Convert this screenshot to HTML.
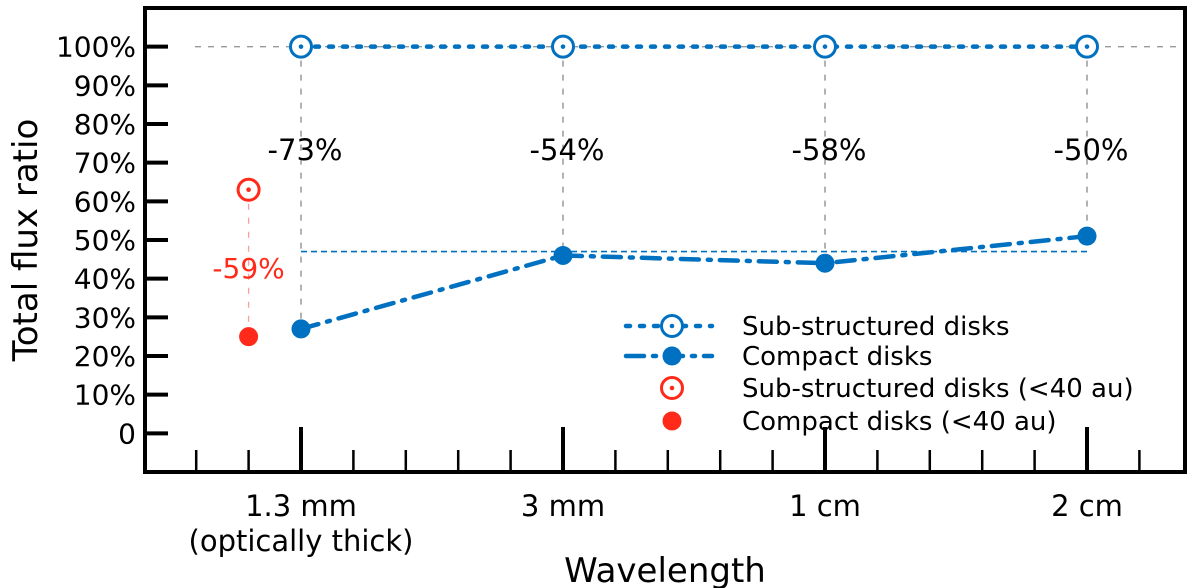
<!DOCTYPE html>
<html><head><meta charset="utf-8"><style>
body{margin:0;background:#fff;}
svg{display:block;font-family:"DejaVu Sans","Liberation Sans",sans-serif;}
</style></head><body>
<svg id="chart" width="1200" height="588" viewBox="0 0 1200 588" xmlns="http://www.w3.org/2000/svg"></svg>
<script>
const categories=["1.3 mm","3 mm","1 cm","2 cm"];
const subStructured=[100,100,100,100];
const compact=[27,46,44,51];
const diffLabels=["-73%","-54%","-58%","-50%"];
const redSub=[63];
const redCompact=[25];
const redLabel=["-59%"];
const yTicks=[0,10,20,30,40,50,60,70,80,90,100];
const refLine=[47];

const NS="http://www.w3.org/2000/svg";
const svg=document.getElementById('chart');
const L=145,R=1185,T=8,B=472;
const y=v=>B+( (v+10)/120 )*(T-B);
const x=i=>301+i*262;
const xr=i=>x(i)-52.4;
function el(t,a,p){const e=document.createElementNS(NS,t);for(const k in a)e.setAttribute(k,a[k]);(p||svg).appendChild(e);return e;}
function txt(s,a){const e=el('text',a);e.textContent=s;return e;}

let g=el('line',{x1:195,x2:R,y1:y(100),y2:y(100),stroke:'#999','stroke-width':1.3,'stroke-dasharray':'6,7'});


categories.forEach((c,i)=>{
 const v=el('line',{x1:x(i),x2:x(i),y1:y(subStructured[i]),y2:y(compact[i]),stroke:'#888','stroke-width':1.3,'stroke-dasharray':'6,8'});
 
 
});
let rv=el('line',{x1:xr(0),x2:xr(0),y1:y(redSub[0]),y2:y(redCompact[0]),stroke:'#f7a0a0','stroke-width':1.3,'stroke-dasharray':'6,8'});


let rl=el('line',{x1:x(0),x2:x(3),y1:y(refLine[0]),y2:y(refLine[0]),stroke:'#0070c0','stroke-width':1.6,'stroke-dasharray':'6,4'});


let sl=el('polyline',{points:subStructured.map((v,i)=>x(i)+','+y(v)).join(' '),fill:'none',stroke:'#0070c0','stroke-width':4.5,'stroke-dasharray':'4,10','stroke-linecap':'round'});


let cl=el('polyline',{points:compact.map((v,i)=>x(i)+','+y(v)).join(' '),fill:'none',stroke:'#0070c0','stroke-width':4.5,'stroke-dasharray':'18,9,3,9','stroke-linecap':'round'});


function openMarker(cx,cy,col,name){
 const c=el('circle',{cx:cx,cy:cy,r:10.5,fill:'#fff',stroke:col,'stroke-width':3});
 
 
 el('circle',{cx:cx,cy:cy,r:2.3,fill:col});
}
function fillMarker(cx,cy,col,name){
 const c=el('circle',{cx:cx,cy:cy,r:9.5,fill:col});
 
 
}
subStructured.forEach((v,i)=>openMarker(x(i),y(v),'#0070c0','sub-structured-point-'+i));
compact.forEach((v,i)=>fillMarker(x(i),y(v),'#0070c0','compact-point-'+i));
openMarker(xr(0),y(redSub[0]),'#ff2a1a','red-sub-structured-point');
fillMarker(xr(0),y(redCompact[0]),'#ff2a1a','red-compact-point');
diffLabels.forEach((s,i)=>{
 const t=txt(s,{x:x(i)+4,y:160,'font-size':29,'text-anchor':'middle',fill:'#000'});
 
 
});
let rlab=txt(redLabel[0],{x:xr(0),y:y(43)+11,'font-size':28,'text-anchor':'middle',fill:'#ff2a1a'});


let fr=el('rect',{x:L,y:T,width:R-L,height:B-T,fill:'none',stroke:'#000','stroke-width':4});


yTicks.forEach(v=>{
 el('line',{x1:L,x2:L+23,y1:y(v),y2:y(v),stroke:'#000','stroke-width':4});
 const t=txt(v===0?'0':v+'%',{x:L-9,y:y(v)+10,'font-size':28,'text-anchor':'end',fill:'#000'});
 
 
});
for(let k=-2;k<=17;k++){
 const xx=301+k*52.4; if(xx<=L+5||xx>=R-5)continue;
 const major=k%5===0;
 el('line',{x1:xx,x2:xx,y1:B,y2:B-(major?45:22),stroke:'#000','stroke-width':major?4:2.5});
}
categories.forEach((c,i)=>{
 const t=txt(c,{x:x(i),y:516,'font-size':29,'text-anchor':'middle',fill:'#000'});
 
 
});
let sub=txt('(optically thick)',{x:x(0),y:551,'font-size':29,'text-anchor':'middle',fill:'#000'});


let xt=txt('Wavelength',{x:665,y:582,'font-size':34,'text-anchor':'middle',fill:'#000'});


let yt=txt('Total flux ratio',{x:0,y:0,'font-size':34,'text-anchor':'middle',fill:'#000',transform:'translate(37,240) rotate(-90)'});


const lg=[['Sub-structured disks',326,'#0070c0','open','4,10'],['Compact disks',356,'#0070c0','fill','18,9,3,9'],['Sub-structured disks (<40 au)',388,'#ff2a1a','open',null],['Compact disks (<40 au)',421,'#ff2a1a','fill',null]];
lg.forEach((r,i)=>{
 if(r[4]){el('line',{x1:626,x2:712,y1:r[1],y2:r[1],stroke:r[2],'stroke-width':4.5,'stroke-dasharray':r[4],'stroke-linecap':'round'});}
 if(r[3]==='open')openMarker(672,r[1],r[2],'legend-marker-'+i);else fillMarker(672,r[1],r[2],'legend-marker-'+i);
 const t=txt(r[0],{x:742,y:r[1]+9,'font-size':26,fill:'#000'});
 
 
});
</script>
</body></html>
